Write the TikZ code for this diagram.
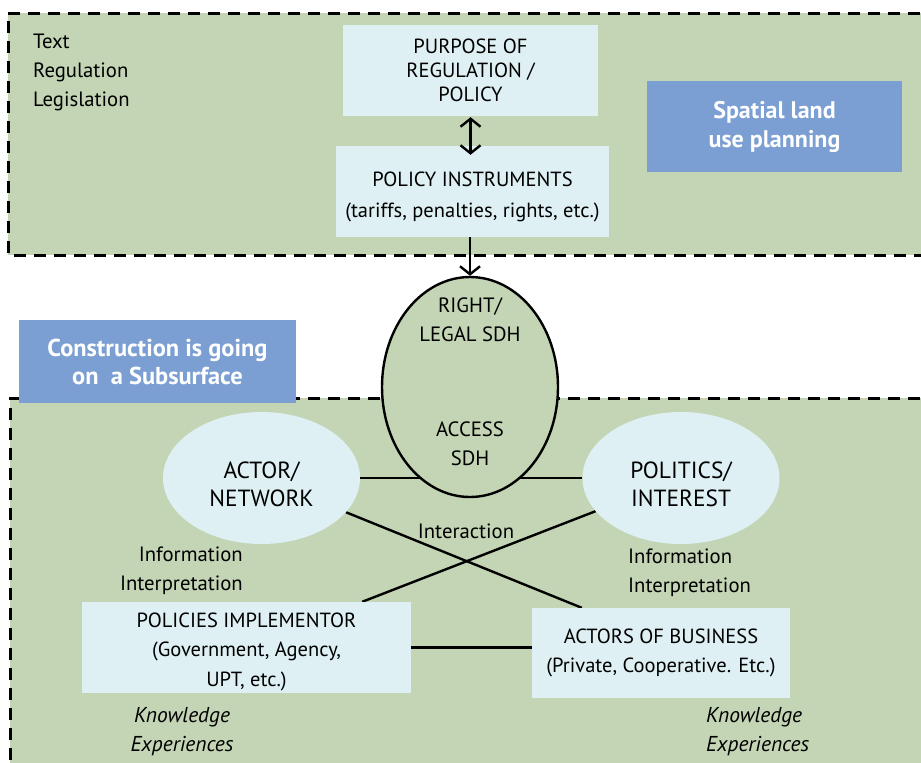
\documentclass[tikz,border=0pt]{standalone}
\usepackage{fontspec}
\setmainfont{PT Sans}
\usetikzlibrary{shapes.geometric,arrows.meta}
\definecolor{zonegreen}{HTML}{C3D5B4}
\definecolor{boxblue}{HTML}{DEF0F3}
\definecolor{tagblue}{HTML}{7B9FD2}
\pgfdeclarelayer{background}
\pgfdeclarelayer{links}
\pgfsetlayers{background,links,main}
\tikzset{
  zone/.style={fill=zonegreen},
  zoneedge/.style={draw=black,line width=3pt,dash pattern=on 12pt off 8pt},
  infobox/.style={fill=boxblue,inner sep=0pt,align=center,
    font=\fontsize{20.5}{24}\selectfont},
  tagbox/.style={fill=tagblue,inner sep=0pt,align=center,text=white,
    font=\fontsize{24}{29}\selectfont\bfseries},
  bubble/.style={ellipse,fill=boxblue,inner sep=0pt,
    minimum width=197pt,minimum height=132pt},
  bubbletext/.style={inner sep=0pt,align=center,font=\fontsize{23.4}{28}\selectfont},
  plain/.style={inner sep=0pt,font=\fontsize{20.7}{29}\selectfont},
  slanted/.style={inner sep=0pt,font=\fontsize{21.5}{29}\selectfont\itshape},
  link/.style={line width=2.4pt},
  barb/.tip={Straight Barb[length=8pt,width=20pt,line width=2.4pt]},
  flow/.style={line width=2.4pt,-barb},
  twoway/.style={line width=2.4pt,barb-barb}
}
\begin{document}
\begin{tikzpicture}[x=1pt,y=-1pt]
\useasboundingbox (0,0) rectangle (921,763);
\clip (0,0) rectangle (921,763);

% regulatory zone and construction zone
\begin{pgfonlayer}{background}
  \fill[zone] (8,13) rectangle (940,255);
  \draw[zoneedge] (940,13) -- (8,13) -- (8,255) -- (940,255);
  \fill[zone] (10,398) rectangle (940,780);
  \draw[zoneedge] (940,398) -- (10,398) -- (10,780);
\end{pgfonlayer}

% upper zone
\node[plain,anchor=west,align=left] (legal) at (33,72) {Text\\Regulation\\Legislation};
\node[infobox,minimum width=255pt,minimum height=91pt] (purpose) at (470.5,70.5)
  {PURPOSE OF\\REGULATION /\\POLICY};
\node[infobox,minimum width=273pt,minimum height=91pt] (instr) at (472.5,191.5) {};
\node[infobox,font=\fontsize{20.5}{31}\selectfont] (instrtext)
  at ([yshift=-5pt]instr.center) {POLICY INSTRUMENTS\\(tariffs, penalties, rights, etc.)};
\node[tagbox,minimum width=255pt,minimum height=91pt] (spatial) at (774.5,126.5)
  {Spatial land\\use planning};

% central SDH ellipse
\node[ellipse,draw=black,line width=2.4pt,fill=zonegreen,inner sep=0pt,
  minimum width=176pt,minimum height=220pt] (sdh) at (470,387) {};
\node[plain,align=center] (sdhright) at (470,319.5) {RIGHT/\\LEGAL SDH};
\node[plain,align=center] (sdhaccess) at (470,444) {ACCESS\\SDH};

% lower zone
\node[tagbox,minimum width=277pt,minimum height=83pt,
  font=\fontsize{24.4}{28}\selectfont\bfseries] (construct) at (157.5,361.5)
  {Construction is going\\on\ \ a Subsurface};
\node[bubble] (actor) at (261.5,478) {};
\node[bubbletext] (actortext) at ([yshift=-6pt]actor.center) {ACTOR/\\NETWORK};
\node[bubble] (politics) at (681,478) {};
\node[bubbletext] (politicstext) at ([yshift=-6pt]politics.center) {POLITICS/\\INTEREST};
\node[plain] (interaction) at (466,531) {Interaction};
\node[plain,anchor=east,align=right] (infoleft) at (243,570.5) {Information\\Interpretation};
\node[plain,anchor=west,align=left] (inforight) at (628,573) {Information\\Interpretation};
\node[infobox,minimum width=329pt,minimum height=91pt] (impl) at (246.5,647.5) {};
\node[infobox,font=\fontsize{20.5}{29.5}\selectfont] (impltext)
  at ([yshift=-4pt]impl.center) {POLICIES IMPLEMENTOR\\(Government, Agency,\\UPT, etc.)};
\node[infobox,minimum width=258pt,minimum height=90pt,
  font=\fontsize{20.5}{29}\selectfont] (business) at (661,653)
  {ACTORS OF BUSINESS\\(Private, Cooperative. Etc.)};
\node[slanted,align=center] (knowleft) at (182,731.5) {Knowledge\\Experiences};
\node[slanted,anchor=west,align=left] (knowright) at (706,731.5) {Knowledge\\Experiences};

% connectors
\draw[twoway] ([yshift=-1pt]purpose.south) -- ([yshift=-9pt]purpose.south |- instr.north);
\draw[flow] (instr.south -| sdh.north) -- (sdh.north);
\begin{pgfonlayer}{links}
  \draw[link] (actor.east) -- (actor.east -| sdh.center);
  \draw[link] (politics.west) -- (politics.west -| sdh.center);
  \draw[link] (actor) -- ([xshift=50pt]business.north west);
  \draw[link] (politics) -- ([xshift=-49pt]impl.north east);
  \draw[link] (impl.east) -- (impl.east -| business.west);
\end{pgfonlayer}
\end{tikzpicture}
\end{document}
